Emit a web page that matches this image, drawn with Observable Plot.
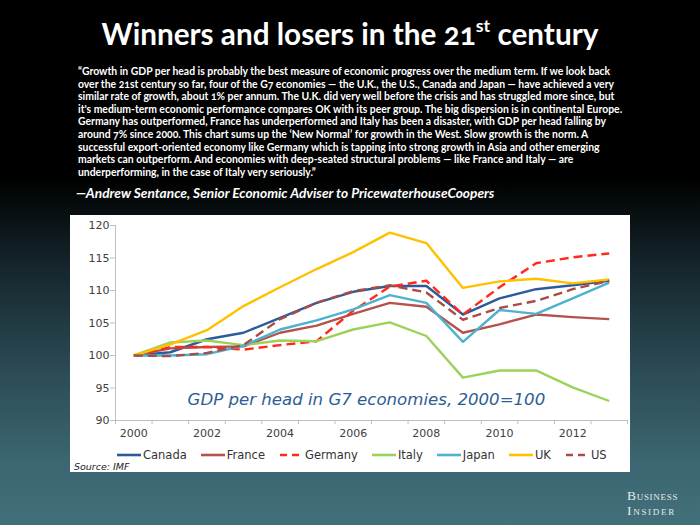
<!DOCTYPE html>
<html><head><meta charset="utf-8">
<script src="https://cdn.jsdelivr.net/npm/d3@7"></script>
<script src="https://cdn.jsdelivr.net/npm/@observablehq/plot@0.6"></script>
<style>
html,body{margin:0;padding:0;}
body{width:700px;height:525px;overflow:hidden;position:relative;
  background:linear-gradient(to bottom,#000 0%,#000 34%,#14242a 50%,#2b4a54 70%,#3c6671 88%,#41707b 100%);
  font-family:Lato,"Open Sans",sans-serif;}
#title{position:absolute;left:0;width:700px;top:16px;text-align:center;color:#fff;font-weight:700;font-size:29.7px;line-height:36px;font-variant-numeric:oldstyle-nums;white-space:nowrap;}
#title sup{font-size:60%;vertical-align:baseline;position:relative;top:-0.75em;font-variant-numeric:normal;}
#quote{position:absolute;left:78px;top:65px;color:#fff;font-weight:700;font-size:10.4px;line-height:12.6px;white-space:nowrap;font-variant-numeric:oldstyle-nums;}
#attr{position:absolute;left:76px;top:184px;color:#fff;font-weight:700;font-style:italic;font-size:13.7px;white-space:nowrap;}
#panel{position:absolute;left:70px;top:215px;width:560px;height:257px;background:#fff;}
#chart{position:absolute;left:0;top:0;}
#legend{position:absolute;left:47px;top:233px;height:14px;display:flex;align-items:center;font-family:"DejaVu Sans",Verdana,sans-serif;font-size:11.5px;color:#333;white-space:nowrap;}
.item{display:flex;align-items:center;margin-right:14px;}
.item svg{margin-right:2px;}
#source{position:absolute;left:4px;top:246px;font-family:"DejaVu Sans",Verdana,sans-serif;font-style:italic;font-size:9.5px;color:#222;}
#bi{position:absolute;left:627px;top:488px;font-family:"Liberation Serif","DejaVu Serif",serif;font-size:13.5px;line-height:15px;color:#e6e9ea;font-variant:small-caps;}
#bi .l1{letter-spacing:0.7px;}
#bi .l2{letter-spacing:1.7px;}
</style></head>
<body>
<div id="title">Winners and losers in the 21<sup>st</sup> century</div>
<div id="quote"></div>
<div id="attr">—Andrew Sentance, Senior Economic Adviser to PricewaterhouseCoopers</div>
<div id="panel">
  <div id="chart"></div>
  <div id="legend"></div>
  <div id="source">Source: IMF</div>
</div>
<div id="bi"><div class="l1">Business</div><div class="l2">Insider</div></div>
<script>
const quoteLines = [
  "“Growth in GDP per head is probably the best measure of economic progress over the medium term. If we look back",
  "over the 21st century so far, four of the G7 economies — the U.K., the U.S., Canada and Japan — have achieved a very",
  "similar rate of growth, about 1% per annum. The U.K. did very well before the crisis and has struggled more since, but",
  "it's medium-term economic performance compares OK with its peer group. The big dispersion is in continental Europe.",
  "Germany has outperformed, France has underperformed and Italy has been a disaster, with GDP per head falling by",
  "around 7% since 2000. This chart sums up the ‘New Normal’ for growth in the West. Slow growth is the norm. A",
  "successful export-oriented economy like Germany which is tapping into strong growth in Asia and other emerging",
  "markets can outperform. And economies with deep-seated structural problems — like France and Italy — are",
  "underperforming, in the case of Italy very seriously.”"
];
document.getElementById("quote").innerHTML = quoteLines.map(s => s.replace(/&/g,"&amp;").replace(/</g,"&lt;")).join("<br>");

const years = [2000,2001,2002,2003,2004,2005,2006,2007,2008,2009,2010,2011,2012,2013];
const canada  = [100,100.5,102.5,103.5,105.8,108.1,109.8,110.7,110.7,106.3,108.8,110.2,110.8,111.5];
const france  = [100,101.1,101.3,101.4,103.5,104.6,106.4,108.1,107.5,103.5,104.8,106.3,105.9,105.6];
const germany = [100,101.3,101.3,100.9,101.6,102.2,106.9,110.6,111.5,106.3,110.5,114.2,115.1,115.7];
const italy   = [100,102.0,102.3,101.6,102.3,102.2,104.0,105.1,103.0,96.6,97.7,97.7,95.1,93.0];
const japan   = [100,100.0,100.2,101.5,104.0,105.4,107.1,109.3,108.1,102.1,107.0,106.4,108.8,111.2];
const uk      = [100,101.7,103.9,107.6,110.5,113.3,115.9,118.9,117.3,110.4,111.4,111.8,111.1,111.7];
const us      = [100,99.9,100.4,101.6,105.6,108.1,109.9,110.8,109.7,105.5,107.3,108.4,110.2,111.5];

const countries = ["Canada","France","Germany","Italy","Japan","UK","US"];
const seriesValues = [canada,france,germany,italy,japan,uk,us];
const colors = ["#2b5b9b","#b5524e","#ff2a1a","#9bd25a","#4bb2d0","#ffc000","#a94b46"];
const dashes = [null,null,"9,5",null,null,null,"9,5"];

const yTicks = [90,95,100,105,110,115,120];
const xLabelYears = [2000,2002,2004,2006,2008,2010,2012];
const chartCaption = "GDP per head in G7 economies, 2000=100";

const xDomain = [years[0]-0.5, years[years.length-1]+0.5];
const yDomain = [yTicks[0], yTicks[yTicks.length-1]];
const bandEdges = d3.range(xDomain[0], xDomain[1]+0.01, 1);

const rows = [];
countries.forEach((c,i) => years.forEach((y,j) => rows.push({country:c, year:y, value:seriesValues[i][j]})));

const axisColor = "#bfbfbf";
const textColor = "#404040";

const lineMarks = countries.map((c,i) => Plot.line(rows.filter(r => r.country === c), {
  x:"year", y:"value", stroke: colors[i], strokeWidth: 2.4,
  strokeDasharray: dashes[i] || undefined, strokeLinecap: "butt", strokeLinejoin: "round"
}));

const chart = Plot.plot({
  width: 560, height: 230,
  marginLeft: 45, marginRight: 3, marginTop: 10, marginBottom: 25,
  x: {domain: xDomain},
  y: {domain: yDomain},
  style: {fontFamily: "'DejaVu Sans', Verdana, sans-serif", fontSize: "11px", color: textColor, background: "transparent", overflow: "visible"},
  marks: [
    Plot.axisY({ticks: yTicks, tickSize: 5, tickPadding: 1, stroke: axisColor, fill: textColor, label: null, tickFormat: d => String(d)}),
    Plot.axisX({ticks: bandEdges, tickSize: 4, stroke: axisColor, label: null, tickFormat: () => ""}),
    Plot.axisX({ticks: xLabelYears, tickSize: 0, tickPadding: 9, fill: textColor, label: null, tickFormat: d => String(d)}),
    Plot.ruleX([xDomain[0]], {stroke: axisColor}),
    Plot.ruleY([yDomain[0]], {stroke: axisColor}),
    ...lineMarks,
    Plot.text([chartCaption], {x: 2001.47, y: 93.2, text: d => d, textAnchor: "start", lineAnchor: "middle",
      fill: "#2e5d96", fontSize: 16.6, fontStyle: "italic", fontFamily: "'DejaVu Sans', Verdana, sans-serif"})
  ]
});
document.getElementById("chart").appendChild(chart);

const legend = document.getElementById("legend");
countries.forEach((c,i) => {
  const item = document.createElement("div");
  item.className = "item";
  item.innerHTML = `<svg width="24" height="6"><line x1="0" y1="3" x2="24" y2="3" stroke="${colors[i]}" stroke-width="2.6" ${dashes[i] ? `stroke-dasharray="7,5" stroke-dashoffset="-1"` : ""}/></svg><span>${c}</span>`;
  legend.appendChild(item);
});
</script>
</body></html>
